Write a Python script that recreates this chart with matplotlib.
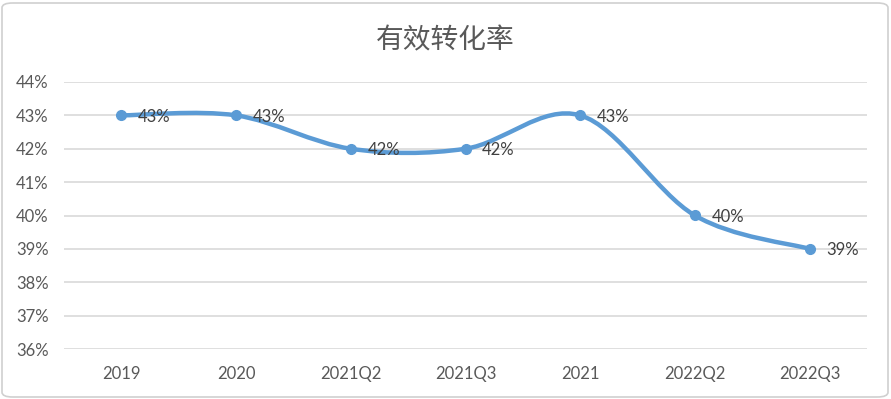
import matplotlib.pyplot as plt
from matplotlib.path import Path
from matplotlib.patches import PathPatch, FancyBboxPatch
import matplotlib.ticker as mticker

# 数据
categories = ['2019', '2020', '2021Q2', '2021Q3', '2021', '2022Q2', '2022Q3']
values = [0.43, 0.43, 0.42, 0.42, 0.43, 0.40, 0.39]
labels = ['43%', '43%', '42%', '42%', '43%', '40%', '39%']
title = '有效转化率'

line_color = '#5B9BD5'
grid_color = '#D9D9D9'
text_color = '#595959'

plt.rcParams['font.family'] = ['Lato', 'Noto Sans CJK SC', 'DejaVu Sans']

fig = plt.figure(figsize=(8.91, 3.99), dpi=100)
ax = fig.add_axes([64 / 891, 50 / 399, (867 - 64) / 891, (349 - 82) / 399])

# 外框（圆角）
frame = FancyBboxPatch((2 / 891, 2 / 399), 886 / 891, 394 / 399,
                       boxstyle='round,pad=0,rounding_size=0.012',
                       transform=fig.transFigure, fill=False,
                       edgecolor='#D0D0D0', linewidth=1.2, zorder=0)
fig.patches.append(frame)

x = list(range(len(categories)))

# 平滑曲线（类似 Excel 的贝塞尔平滑）
verts = [(x[0], values[0])]
codes = [Path.MOVETO]
n = len(x)
for i in range(n - 1):
    p0 = (x[max(i - 1, 0)], values[max(i - 1, 0)])
    p1 = (x[i], values[i])
    p2 = (x[i + 1], values[i + 1])
    p3 = (x[min(i + 2, n - 1)], values[min(i + 2, n - 1)])
    c1 = (p1[0] + (p2[0] - p0[0]) / 6, p1[1] + (p2[1] - p0[1]) / 6)
    c2 = (p2[0] - (p3[0] - p1[0]) / 6, p2[1] - (p3[1] - p1[1]) / 6)
    verts += [c1, c2, p2]
    codes += [Path.CURVE4] * 3
curve = PathPatch(Path(verts, codes), fill=False, edgecolor=line_color,
                  linewidth=3.2, capstyle='round', joinstyle='round', zorder=3)
ax.add_patch(curve)
ax.plot(x, values, linestyle='none', marker='o', markersize=7,
        color=line_color, zorder=4)

for xi, v, lab in zip(x, values, labels):
    ax.annotate(lab, (xi, v), xytext=(12, -1), textcoords='offset points',
                ha='left', va='center', fontsize=12, color='#404040', zorder=5)

ax.set_xlim(-0.5, n - 0.5)
ax.set_ylim(0.36, 0.44)
ax.set_yticks([0.36 + 0.01 * k for k in range(9)])
ax.yaxis.set_major_formatter(mticker.PercentFormatter(1.0, decimals=0))
ax.set_xticks(x)
ax.set_xticklabels(categories)
ax.tick_params(axis='both', length=0, labelsize=12, labelcolor=text_color)
ax.tick_params(axis='y', pad=11)
ax.tick_params(axis='x', pad=12)
ax.grid(axis='y', color=grid_color, linewidth=1.2)
ax.set_axisbelow(True)
for s in ax.spines.values():
    s.set_visible(False)

fig.text(0.5, 1 - 40 / 399, title, ha='center', va='center', fontsize=20,
         color=text_color, family=['Noto Sans CJK SC', 'DejaVu Sans'],
         fontweight='light')

fig.savefig('out.png', dpi=100)
